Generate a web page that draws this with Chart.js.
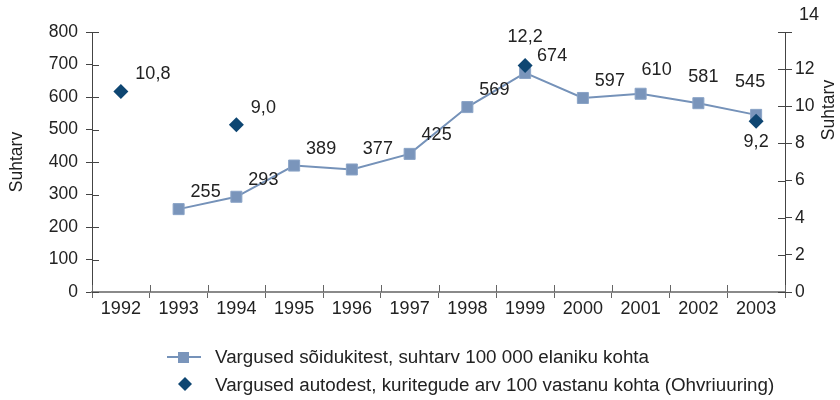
<!DOCTYPE html>
<html lang="et">
<head>
  <meta charset="UTF-8">
  <title>Vargused</title>
  <style>
    html, body { margin: 0; padding: 0; background: #fff; }
    #wrap { width: 840px; height: 400px; }
  </style>
</head>
<body>
  <div id="wrap"><canvas id="chart" width="840" height="400"></canvas></div>

  <script src="https://cdn.jsdelivr.net/npm/chart.js"></script>
  <script>
    const years = ['1992', '1993', '1994', '1995', '1996', '1997', '1998', '1999', '2000', '2001', '2002', '2003'];
    // thefts from vehicles per 100 000 inhabitants (left axis)
    const vehicleRate = [null, 255, 293, 389, 377, 425, 569, 674, 597, 610, 581, 545];
    // car thefts per 100 respondents, victim survey (right axis)
    const carThefts = [10.8, null, 9.0, null, null, null, null, 12.2, null, null, null, 9.2];
    const leftTicks = [0, 100, 200, 300, 400, 500, 600, 700, 800];
    const rightTicks = [0, 2, 4, 6, 8, 10, 12, 14];

    const legendLine = 'Vargused sõidukitest, suhtarv 100 000 elaniku kohta';
    const legendDiamond = 'Vargused autodest, kuritegude arv 100 vastanu kohta (Ohvriuuring)';
    const axisTitle = 'Suhtarv';

    const FONT = "'Liberation Sans', Arial, sans-serif";
    const TEXT = '#222';
    const LINE_COLOR = '#7592b9';
    const DIAMOND_COLOR = '#0e4672';

    // label placement relative to the point
    const defaultOffset = [27, -17];
    const offsetFor = (ds, i) => {
      if (ds === 1 && i === 11) return [-6, -33];
      if (ds === 1 && i === 10) return [5, -26];
      if (ds === 1 && i === 9) return [16, -24];
      if (ds === 1 && i === 5) return [27, -19];
      if (ds === 1 && i === 4) return [26, -20];
      if (ds === 0 && i === 7) return [0, -28];
      if (ds === 0 && i === 11) return [0, 21];
      if (ds === 0 && i === 0) return [32, -17];
      return defaultOffset;
    };

    const extras = {
      id: 'extras',
      afterDraw(chart) {
        const ctx = chart.ctx;
        const a = chart.chartArea;
        const sy = chart.scales.y, sy1 = chart.scales.y1;
        ctx.save();

        // inner halves of the tick marks
        ctx.lineWidth = 1;
        ctx.strokeStyle = '#444';
        sy.ticks.forEach((t, i) => {
          const y = Math.round(sy.getPixelForTick(i)) + 0.5;
          ctx.beginPath(); ctx.moveTo(a.left, y); ctx.lineTo(a.left + 7, y); ctx.stroke();
        });
        sy1.ticks.forEach((t, i) => {
          const y = Math.round(sy1.getPixelForTick(i)) + 0.5;
          ctx.beginPath(); ctx.moveTo(a.right - 7, y); ctx.lineTo(a.right, y); ctx.stroke();
        });
        ctx.strokeStyle = '#666';
        for (let i = 0; i <= years.length; i++) {
          const x = Math.round(a.left + (a.right - a.left) * i / years.length) + 0.5;
          ctx.beginPath(); ctx.moveTo(x, a.bottom - 7); ctx.lineTo(x, a.bottom); ctx.stroke();
        }

        // top label of right axis sits above its tick
        ctx.fillStyle = TEXT;
        ctx.font = '18px ' + FONT;
        ctx.textAlign = 'left';
        ctx.textBaseline = 'middle';
        ctx.fillText('14', 799, 15);

        // axis titles
        ctx.font = '17.5px ' + FONT;
        ctx.textAlign = 'center';
        ctx.save();
        ctx.translate(17, 162); ctx.rotate(-Math.PI / 2);
        ctx.fillText(axisTitle, 0, 0);
        ctx.restore();
        ctx.save();
        ctx.translate(829, 110); ctx.rotate(-Math.PI / 2);
        ctx.fillText(axisTitle, 0, 0);
        ctx.restore();

        // value labels
        ctx.font = '18px ' + FONT;
        chart.data.datasets.forEach((ds, d) => {
          const meta = chart.getDatasetMeta(d);
          ds.data.forEach((v, i) => {
            if (v === null) return;
            const p = meta.data[i];
            const off = offsetFor(d, i);
            const txt = d === 0 ? v.toFixed(1).replace('.', ',') : String(v);
            ctx.fillText(txt, p.x + off[0], p.y + off[1]);
          });
        });

        // legend
        ctx.strokeStyle = LINE_COLOR;
        ctx.lineWidth = 2;
        ctx.beginPath(); ctx.moveTo(167, 357); ctx.lineTo(201, 357); ctx.stroke();
        ctx.fillStyle = '#7a95bb';
        ctx.fillRect(178, 352, 11, 11);
        ctx.fillStyle = DIAMOND_COLOR;
        ctx.beginPath();
        ctx.moveTo(185, 377); ctx.lineTo(192, 384); ctx.lineTo(185, 391); ctx.lineTo(178, 384);
        ctx.closePath(); ctx.fill();
        ctx.fillStyle = TEXT;
        ctx.font = '18.8px ' + FONT;
        ctx.textAlign = 'left';
        ctx.fillText(legendLine, 215, 358);
        ctx.fillText(legendDiamond, 215, 386);

        ctx.restore();
      }
    };

    new Chart(document.getElementById('chart'), {
      type: 'line',
      data: {
        labels: years,
        datasets: [
          {
            label: legendDiamond,
            data: carThefts,
            yAxisID: 'y1',
            showLine: false,
            pointStyle: 'rectRot',
            pointRadius: 7.5,
            backgroundColor: DIAMOND_COLOR,
            borderColor: DIAMOND_COLOR,
            borderWidth: 0
          },
          {
            label: legendLine,
            data: vehicleRate,
            yAxisID: 'y',
            borderColor: LINE_COLOR,
            borderWidth: 2,
            pointStyle: 'rect',
            pointRadius: 7.8,
            backgroundColor: '#7a95bb',
            pointBorderColor: '#8ba4c7',
            pointBorderWidth: 1,
            spanGaps: false,
            tension: 0
          }
        ]
      },
      options: {
        responsive: false,
        animation: false,
        layout: { padding: { top: 32, left: 0, right: 0, bottom: 0 } },
        plugins: { legend: { display: false }, tooltip: { enabled: false } },
        scales: {
          x: {
            offset: true,
            grid: { offset: true, drawOnChartArea: false, tickLength: 6, color: '#666' },
            border: { color: '#8a8a8a', width: 2 },
            ticks: { color: TEXT, padding: 0, maxRotation: 0, font: { family: FONT, size: 18 } },
            afterFit(s) { s.height = 108; }
          },
          y: {
            position: 'left',
            min: 0, max: 800,
            afterBuildTicks(s) { s.ticks = leftTicks.map(v => ({ value: v })); },
            grid: { drawOnChartArea: false, tickLength: 6, color: '#444' },
            border: { color: '#444', width: 1 },
            ticks: { color: TEXT, padding: 8, font: { family: FONT, size: 17.5 } },
            afterFit(s) { s.width = 92; }
          },
          y1: {
            position: 'right',
            min: 0, max: 14,
            afterBuildTicks(s) { s.ticks = rightTicks.map(v => ({ value: v })); },
            grid: { drawOnChartArea: false, tickLength: 7, color: '#444' },
            border: { color: '#444', width: 1 },
            ticks: {
              color: TEXT, padding: 3, font: { family: FONT, size: 17.5 },
              callback: v => (v === 14 ? '' : String(v))
            },
            afterFit(s) { s.width = 55; }
          }
        }
      },
      plugins: [extras]
    });
  </script>
</body>
</html>
